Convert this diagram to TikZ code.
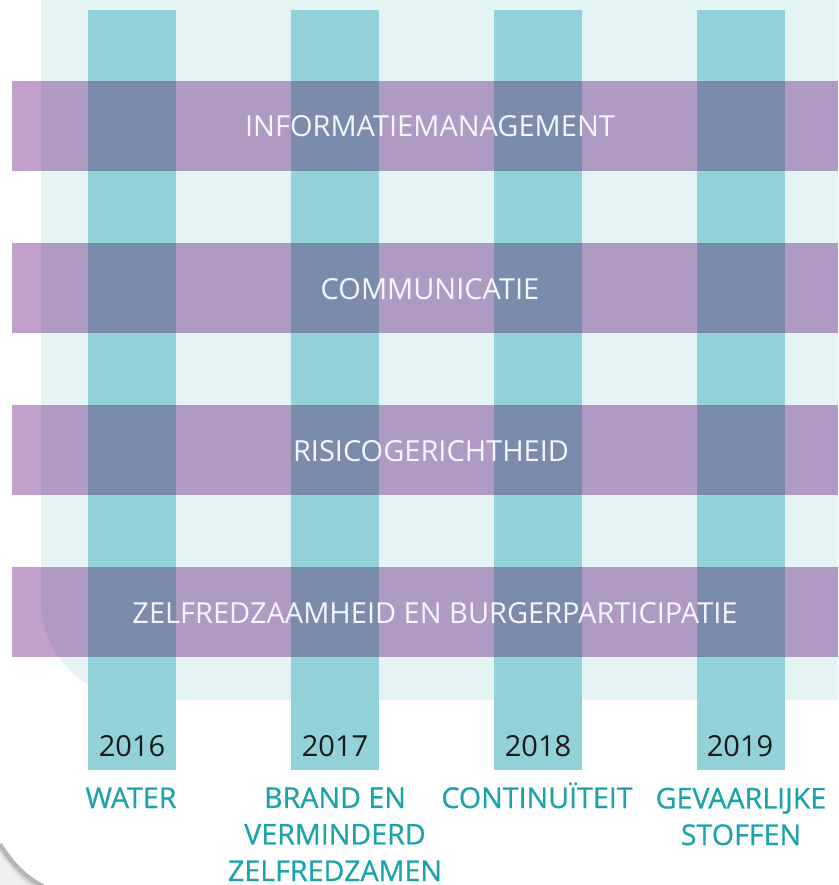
\documentclass[tikz,border=0pt]{standalone}
\usepackage{fontspec}
\setmainfont{Open Sans}
\newfontfamily\topicfont[FakeBold=0.6]{Open Sans}
\usepackage{tikz}

\definecolor{bglight}{HTML}{E4F3F4}
\definecolor{colteal}{HTML}{93D1D8}
\definecolor{bandwhite}{HTML}{C2A0CC}
\definecolor{bandlight}{HTML}{AE9AC3}
\definecolor{bandcross}{HTML}{7A8BAB}
\definecolor{topicteal}{HTML}{1BA3AC}
\definecolor{yeargray}{HTML}{1A1A1A}

\def\bgpath{(838,0) -- (41,0) -- (41,600) arc (180:90:100) -- (838,700) -- cycle}

\begin{document}
\begin{tikzpicture}[x=0.02cm, y=-0.02cm,
	theme/.style={inner sep=0, anchor=base, text=white!96!blue, font=\fontsize{16.5}{20}\selectfont},
	year/.style={inner sep=0, anchor=base, text=yeargray, font=\fontsize{16.5}{20}\selectfont},
	topic/.style={inner sep=0, anchor=base, align=center, text=topicteal, font=\topicfont\fontsize{16.3}{20.8}\selectfont}]
					\useasboundingbox (0,0) rectangle (838,885);
					\fill[white] (0,0) rectangle (838,885);
					
					% shadow of the page corner
					\fill[gray!12] (0,843) .. controls (12,862) and (25,876) .. (43,885) -- (0,885) -- cycle;
					\foreach \d/\c in {8/18,5/30,3/42,1/58}
						\draw[gray!\c, line width=2.2pt] (0,843+\d) .. controls (12,862+\d) and (25,876+\d) .. (43,885+\d);
					
					% background
					\fill[bglight] \bgpath;
					
					% columns
					\foreach \x in {88,291,494,697}
						\fill[colteal] (\x,10) rectangle (\x+88,770);
					
					% bands
					\foreach \y in {81,243,405,567}{
						\fill[bandwhite] (12,\y) rectangle (838,\y+90);
						\begin{scope}
							\clip \bgpath;
							\fill[bandlight] (12,\y) rectangle (838,\y+90);
						\end{scope}
						\foreach \x in {88,291,494,697}
							\fill[bandcross] (\x,\y) rectangle (\x+88,\y+90);
					}
					
					\node[theme] (info) at (430,137){INFORMATIEMANAGEMENT};
					\node[theme] (comm) at (430,299){COMMUNICATIE};
					\node[theme] (risico) at (431,461){RISICOGERICHTHEID};
					\node[theme] (zelf) at (435,623){ZELFREDZAAMHEID EN BURGERPARTICIPATIE};
					
					\node[year] (y16) at (132,756){2016};
					\node[year] (y17) at (335,756){2017};
					\node[year] (y18) at (538,756){2018};
					\node[year] (y19) at (740,756){2019};
					
					% multi-line labels sit on the baseline of their last line
					\node[topic] (water) at (131,808){WATER};
					\node[topic] (brand) at (335,881){BRAND EN\\VERMINDERD\\ZELFREDZAMEN};
					\node[topic] (cont) at (537,808){CONTINUÏTEIT};
					\node[topic] (gev) at (741,845){GEVAARLIJKE\\STOFFEN};
					\end{tikzpicture}
\end{document}
